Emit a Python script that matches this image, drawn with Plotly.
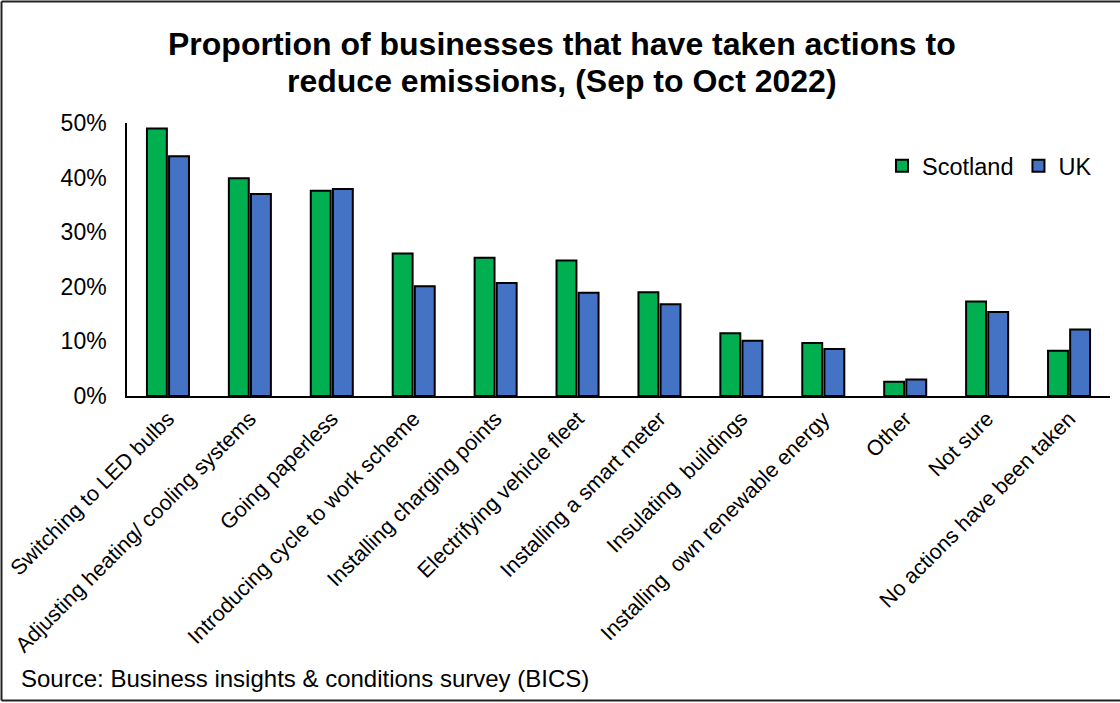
import plotly.graph_objects as go

# Survey categories (x axis) and shares of businesses, in percent
actions = [
    "Switching to LED bulbs",
    "Adjusting heating/ cooling systems",
    "Going paperless",
    "Introducing cycle to work scheme",
    "Installing charging points",
    "Electrifying vehicle fleet",
    "Installing a smart meter",
    "Insulating  buildings",
    "Installing  own renewable energy",
    "Other",
    "Not sure",
    "No actions have been taken",
]
scotland = [49.0, 39.9, 37.6, 26.1, 25.3, 24.8, 19.0, 11.5, 9.7, 2.6, 17.3, 8.3]
uk = [43.9, 37.0, 37.9, 20.1, 20.7, 18.9, 16.8, 10.1, 8.6, 3.0, 15.4, 12.2]

y_ticks = [0, 10, 20, 30, 40, 50]

FONT = "Arial, Liberation Sans, sans-serif"
W, H = 1120, 703
ML, MR, MT, MB = 127, 10, 123, 307
PW, PH = W - ML - MR, H - MT - MB


def px_x(px):
    return (px - ML) / PW


def px_y(py):
    return (H - MB - py) / PH


fig = go.Figure()
fig.add_trace(go.Bar(
    name="Scotland", x=actions, y=scotland,
    marker=dict(color="#00B050", line=dict(color="black", width=2)),
))
fig.add_trace(go.Bar(
    name="UK", x=actions, y=uk,
    marker=dict(color="#4472C4", line=dict(color="black", width=2)),
))

fig.update_layout(
    width=W, height=H,
    margin=dict(l=ML, r=MR, t=MT, b=MB, pad=0, autoexpand=False),
    paper_bgcolor="white", plot_bgcolor="white",
    font=dict(family=FONT, color="black", size=20),
    barmode="group", bargap=0.46, bargroupgap=0.1,
    showlegend=True,
    legend=dict(
        orientation="h", x=px_x(882), y=px_y(144), xanchor="left", yanchor="top",
        font=dict(size=23.5, family=FONT), bgcolor="rgba(0,0,0,0)",
        itemwidth=30, tracegroupgap=0,
    ),
    xaxis=dict(
        showline=True, linecolor="black", linewidth=1.5, automargin=False,
        ticks="", tickangle=-45, tickfont=dict(size=21.5, family=FONT),
        showgrid=False, zeroline=False,
    ),
    yaxis=dict(
        range=[0, 50], tickvals=y_ticks, ticktext=[f"{v}%" for v in y_ticks],
        showline=True, linecolor="black", linewidth=1.5, automargin=False,
        ticks="", ticklabelstandoff=14, tickfont=dict(size=23, family=FONT),
        showgrid=False, zeroline=False,
    ),
    annotations=[
        dict(text="<b>Proportion of businesses that have taken actions to</b>",
             xref="paper", yref="paper", x=px_x(562), y=px_y(44),
             xanchor="center", yanchor="middle", showarrow=False,
             font=dict(size=32, family=FONT, color="black")),
        dict(text="<b>reduce emissions, (Sep to Oct 2022)</b>",
             xref="paper", yref="paper", x=px_x(562), y=px_y(81),
             xanchor="center", yanchor="middle", showarrow=False,
             font=dict(size=32, family=FONT, color="black")),
        dict(text="Source: Business insights & conditions survey (BICS)",
             xref="paper", yref="paper", x=px_x(19), y=px_y(678),
             xanchor="left", yanchor="middle", showarrow=False,
             font=dict(size=24, family=FONT, color="black")),
    ],
    shapes=[
        # frame around the chart (left, top, bottom edges)
        dict(type="line", xref="paper", yref="paper",
             x0=px_x(1.5), x1=px_x(1.5), y0=px_y(1.5), y1=px_y(700.5),
             line=dict(color="#222222", width=2)),
        dict(type="line", xref="paper", yref="paper",
             x0=px_x(1.5), x1=px_x(1125), y0=px_y(1.5), y1=px_y(1.5),
             line=dict(color="#222222", width=2)),
        dict(type="line", xref="paper", yref="paper",
             x0=px_x(1.5), x1=px_x(1125), y0=px_y(700.5), y1=px_y(700.5),
             line=dict(color="#222222", width=2)),
    ],
)

fig.write_html("out.html")
